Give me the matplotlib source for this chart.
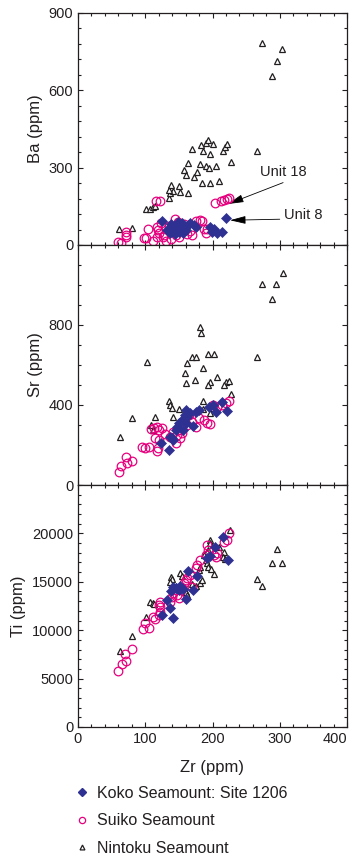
import matplotlib
matplotlib.use("Agg")
import matplotlib.pyplot as plt
from matplotlib.ticker import MultipleLocator, FixedLocator
from matplotlib.lines import Line2D

plt.rcParams['font.family'] = ['Liberation Sans', 'DejaVu Sans']

# --- Ba vs Zr ---
koko_zr_ba = [125, 132, 137, 141, 147, 154, 157, 160, 164, 167, 172, 175, 156, 150, 144,
              196, 199, 202, 206, 214, 220, 138, 148]
koko_ba = [94, 58, 45, 65, 71, 87, 71, 58, 77, 87, 77, 71, 45, 52, 43,
           68, 52, 62, 45, 50, 103, 80, 90]
suiko_zr_ba = [60, 64, 71, 71, 71, 98, 101, 104, 111, 116, 122, 118, 119, 120, 118, 127, 131,
               144, 145, 146, 155, 162, 175, 181, 185, 187, 192, 190, 203, 212, 217, 222, 225,
               123, 128, 135, 140, 150, 158, 166, 170, 138, 148]
suiko_ba = [13, 8, 52, 39, 30, 28, 28, 61, 17, 172, 169, 71, 58, 45, 32, 30, 17,
            102, 58, 37, 65, 43, 93, 97, 93, 63, 63, 45, 164, 171, 175, 177, 181,
            85, 40, 75, 50, 30, 80, 55, 40, 25, 90]
nintoku_zr_ba = [61, 80, 101, 107, 112, 115, 136, 137, 141, 136, 139, 150, 152, 164,
                 158, 160, 163, 173, 177, 181, 185, 191, 195, 197, 205, 209, 228,
                 170, 183, 186, 190, 194, 196, 201, 216, 218, 222, 266, 274, 304, 296, 288]
nintoku_ba = [62, 67, 141, 141, 146, 151, 183, 200, 211, 213, 233, 229, 206, 200,
              291, 273, 319, 262, 283, 313, 239, 306, 297, 242, 308, 249, 323,
              372, 387, 365, 394, 407, 352, 390, 366, 379, 390, 366, 782, 760, 715, 655]

# --- Sr vs Zr ---
koko_zr_sr = [123, 136, 140, 137, 142, 145, 147, 155, 159, 161, 150, 156, 162, 167, 171,
              176, 180, 160, 195, 200, 205, 214, 222]
koko_sr = [212, 175, 233, 242, 225, 275, 292, 325, 350, 375, 308, 275, 342, 358, 295,
           367, 375, 308, 392, 400, 367, 417, 370]
suiko_zr_sr = [61, 64, 72, 73, 81, 95, 100, 105, 117, 119, 108, 113, 117, 121, 125, 115, 121,
               180, 187, 192, 197, 214, 220, 225, 130, 137, 142, 147, 150, 154, 157, 162,
               170, 165, 175, 152, 145, 155, 200, 207]
suiko_sr = [66, 95, 138, 111, 121, 192, 183, 188, 172, 183, 278, 283, 292, 275, 283, 233, 225,
            333, 325, 308, 305, 400, 408, 422, 255, 242, 267, 250, 275, 283, 308, 300,
            317, 350, 292, 233, 208, 258, 400, 388]
nintoku_zr_sr = [305, 273, 295, 289, 266, 102, 63, 81, 181, 183, 162, 170, 176, 194, 202,
                 159, 186, 174, 161, 206, 196, 194, 220, 224, 217, 228, 186, 135, 137, 140,
                 150, 114, 109, 111, 186, 197, 200, 141, 160]
nintoku_sr = [1058, 1003, 1003, 928, 638, 617, 242, 333, 788, 762, 612, 638, 638, 655, 655,
              562, 583, 525, 508, 542, 517, 500, 517, 520, 500, 455, 422, 422, 400, 383,
              378, 338, 300, 275, 378, 358, 383, 338, 367]

# --- Ti vs Zr ---
koko_zr_ti = [125, 142, 132, 137, 141, 145, 150, 156, 161, 163, 171, 177, 192, 197, 203,
              215, 223, 138, 146, 152]
koko_ti = [11580, 11240, 13130, 12340, 14500, 14330, 14160, 14230, 13260, 16150, 14160,
           15630, 17420, 17660, 18620, 19590, 17250, 14000, 14400, 14600]
suiko_zr_ti = [60, 65, 70, 72, 81, 97, 99, 105, 111, 115, 121, 122, 122, 122, 120,
               137, 140, 142, 145, 147, 150, 153, 157, 160, 162, 167, 175, 177, 182, 190,
               194, 202, 205, 207, 217, 222, 224, 192, 170, 155]
suiko_ti = [5810, 6490, 7520, 6840, 8070, 10140, 10720, 10200, 11340, 11130, 11580, 11920,
            12370, 12950, 12610, 12950, 13470, 13810, 14160, 13640, 13300, 14160, 14840,
            15190, 15360, 15700, 16390, 16730, 17250, 17760, 18280, 17760, 17520, 17930,
            19130, 19300, 19990, 18800, 14500, 14330]
nintoku_zr_ti = [62, 81, 101, 107, 111, 113, 138, 140, 137, 152, 155, 161, 162, 170, 175,
                 182, 197, 197, 194, 192, 209, 217, 216, 218, 226, 187, 190, 192, 194, 198,
                 202, 180, 182, 184, 266, 274, 289, 296, 304]
nintoku_ti = [7900, 9450, 11400, 12950, 12850, 12700, 15530, 15250, 15000, 15870, 15630,
              13900, 13650, 14800, 14550, 14900, 19300, 18970, 18280, 18100, 18620, 18100,
              17520, 17310, 20340, 17760, 17250, 16900, 16490, 16290, 15800, 16220, 16490,
              15190, 15250, 14570, 16900, 18380, 16970]

zr_ticks = [0, 100, 200, 300, 400]
labels = ["Koko Seamount: Site 1206", "Suiko Seamount", "Nintoku Seamount"]

TXT = "#231f20"
BLUE = "#2e3192"
PINK = "#e6007e"

fig = plt.figure(figsize=(3.57, 8.63), dpi=100)
left, width = 78 / 357, 269 / 357
ax_ba = fig.add_axes([left, 1 - 245 / 863, width, 232 / 863])
ax_sr = fig.add_axes([left, 1 - 485 / 863, width, 240 / 863])
ax_ti = fig.add_axes([left, 1 - 727 / 863, width, 242 / 863])


def draw(ax, kx, ky, sx, sy, nx, ny):
    ax.plot(nx, ny, ls="none", marker="^", ms=4.2, mfc="white", mec=TXT, mew=0.9, zorder=3)
    ax.plot(sx, sy, ls="none", marker="o", ms=6.2, mfc="none", mec=PINK, mew=0.9, zorder=4)
    ax.plot(kx, ky, ls="none", marker="D", ms=5.4, mfc=BLUE, mec=BLUE, mew=0.5, zorder=5)


def style(ax, ymax, yticks, yminor, ylabel):
    ax.set_xlim(0, 400)
    ax.set_ylim(0, ymax)
    ax.xaxis.set_major_locator(FixedLocator(zr_ticks))
    ax.xaxis.set_minor_locator(MultipleLocator(20))
    ax.yaxis.set_major_locator(FixedLocator(yticks))
    ax.yaxis.set_minor_locator(MultipleLocator(yminor))
    ax.tick_params(which="both", direction="in", top=True, right=True,
                   colors=TXT, labelsize=10.5, width=0.8)
    ax.tick_params(which="major", length=3.8)
    ax.tick_params(which="minor", length=2.2)
    for s in ax.spines.values():
        s.set_color(TXT)
        s.set_linewidth(0.9)
    ax.set_ylabel(ylabel, fontsize=12, color=TXT)


draw(ax_ba, koko_zr_ba, koko_ba, suiko_zr_ba, suiko_ba, nintoku_zr_ba, nintoku_ba)
draw(ax_sr, koko_zr_sr, koko_sr, suiko_zr_sr, suiko_sr, nintoku_zr_sr, nintoku_sr)
draw(ax_ti, koko_zr_ti, koko_ti, suiko_zr_ti, suiko_ti, nintoku_zr_ti, nintoku_ti)

style(ax_ba, 900, [0, 300, 600, 900], 60, "Ba (ppm)")
style(ax_sr, 1200, [0, 400, 800], 100, "Sr (ppm)")
style(ax_ti, 25000, [0, 5000, 10000, 15000, 20000], 1000, "Ti (ppm)")
ax_ba.tick_params(labelbottom=False)
ax_sr.tick_params(labelbottom=False)
ax_ti.set_xlabel("Zr (ppm)", fontsize=12, color=TXT, labelpad=10)

# keep the last x label ("400") inside the figure
ax_ti.xaxis.get_major_ticks()[len(zr_ticks) - 1].label1.set_horizontalalignment("right")

# unit annotations
arrow = dict(arrowstyle="-|>,head_length=0.8,head_width=0.2", color="black",
             lw=0.6, mutation_scale=12, shrinkA=0, shrinkB=0)
ax_ba.annotate("", xy=(223, 159), xytext=(305, 242), arrowprops=arrow)
ax_ba.text(305, 283, "Unit 18", fontsize=10.5, color=TXT, ha="center", va="center")
ax_ba.annotate("", xy=(226, 96), xytext=(300, 100), arrowprops=arrow)
ax_ba.text(335, 116, "Unit 8", fontsize=10.5, color=TXT, ha="center", va="center")

handles = [
    Line2D([], [], ls="none", marker="D", ms=4, mfc=BLUE, mec=BLUE),
    Line2D([], [], ls="none", marker="o", ms=4.5, mfc="none", mec=PINK, mew=0.9),
    Line2D([], [], ls="none", marker="^", ms=3.5, mfc="white", mec=TXT, mew=0.9),
]
fig.legend(handles, labels, loc="upper left", bbox_to_anchor=(74 / 357, 1 - 786 / 863),
           frameon=False, fontsize=11.5, handlelength=1.0, handletextpad=0.45,
           labelspacing=0.78, borderpad=0, borderaxespad=0, labelcolor=TXT)

fig.savefig("out.png", dpi=100)
